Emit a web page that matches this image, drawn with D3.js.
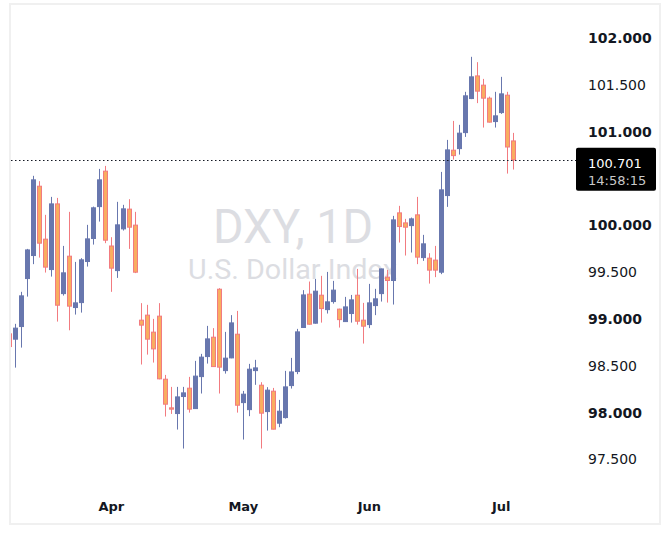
<!DOCTYPE html>
<html>
<head>
<meta charset="utf-8">
<script src="https://cdn.jsdelivr.net/npm/d3@7"></script>
<style>
  body { margin: 0; background: #fff; }
  svg { display: block; }
  .price-axis text { font-family: "DejaVu Sans", sans-serif; font-size: 14px; fill: #131722; }
  .time-axis text { font-family: "DejaVu Sans", sans-serif; font-size: 13px; font-weight: bold; fill: #131722; }
</style>
</head>
<body>
<svg class="CandleChart" width="670" height="544"></svg>
<script>
const symbolTitle = "DXY, 1D";
const symbolName = "U.S. Dollar Index";
const firstDay = "2026-03-09";

const openValues = [
    98.841, 98.784, 98.919, 99.432, 99.678, 100.419, 99.853, 99.528, 100.230, 99.271,
    99.671, 99.122, 99.175, 99.614, 99.860, 100.201, 100.580, 99.780, 99.517, 99.963,
    100.174, 100.003, 98.987, 99.041, 98.859, 99.030, 98.356, 98.050, 97.989, 98.171,
    98.260, 98.042, 98.384, 98.598, 98.805, 99.318, 98.448, 98.584, 98.837, 98.106,
    98.031, 98.448, 98.292, 98.010, 98.228, 97.886, 97.946, 98.288, 98.438, 98.909,
    99.265, 98.955, 99.254, 99.100, 99.186, 99.105, 98.972, 99.058, 99.254, 98.987,
    98.940, 99.143, 99.271, 99.447, 99.411, 100.134, 100.027, 99.998, 100.113, 99.656,
    99.650, 99.629, 99.500, 100.319, 100.804, 100.821, 100.992, 101.356, 101.598, 101.499,
    101.360, 101.110, 101.206, 101.392, 100.903
];
const highValues = [
    98.873, 98.948, 99.290, 99.749, 100.530, 100.473, 100.113, 100.305, 100.294, 99.781,
    100.145, 99.610, 99.650, 100.006, 100.201, 100.604, 100.636, 99.874, 100.252, 100.220,
    100.280, 100.145, 99.169, 99.151, 99.001, 99.169, 98.402, 98.274, 98.274, 98.274,
    98.381, 98.552, 98.627, 98.926, 98.902, 99.329, 98.862, 99.041, 99.086, 98.231,
    98.520, 98.563, 98.324, 98.271, 98.263, 98.135, 98.445, 98.584, 98.894, 99.308,
    99.400, 99.428, 99.461, 99.503, 99.407, 99.110, 99.236, 99.257, 99.535, 99.172,
    99.375, 99.322, 99.538, 99.524, 100.102, 100.209, 100.070, 100.084, 100.305, 99.899,
    99.703, 99.781, 100.572, 100.914, 101.117, 101.075, 101.428, 101.802, 101.745, 101.566,
    101.377, 101.428, 101.588, 101.428, 100.989
];
const lowValues = [
    98.680, 98.480, 98.694, 99.239, 99.586, 99.656, 99.496, 99.453, 98.972, 99.250,
    98.879, 99.047, 99.068, 99.560, 99.795, 100.041, 99.810, 99.290, 99.439, 99.945,
    99.749, 99.490, 98.513, 98.619, 98.534, 98.355, 97.957, 97.985, 97.818, 97.615,
    97.999, 98.040, 98.203, 98.523, 98.490, 98.203, 98.416, 98.580, 97.999, 97.711,
    97.961, 98.296, 97.615, 97.807, 97.820, 97.843, 97.935, 98.256, 98.410, 98.905,
    98.940, 98.950, 98.961, 99.058, 99.164, 98.908, 98.970, 98.961, 98.940, 98.737,
    98.902, 99.041, 99.186, 99.175, 99.154, 99.817, 99.678, 99.710, 99.586, 99.621,
    99.378, 99.447, 99.479, 100.198, 100.704, 100.757, 100.946, 101.350, 101.307, 101.046,
    101.100, 101.046, 101.192, 100.554, 100.597
];
const closeValues = [
    98.705, 98.902, 99.247, 99.738, 100.487, 99.810, 99.554, 100.230, 99.147, 99.493,
    99.137, 99.172, 99.632, 99.856, 100.188, 100.487, 99.842, 99.543, 100.006, 100.177,
    99.981, 99.500, 98.934, 98.784, 98.680, 98.360, 98.089, 98.036, 98.167, 98.210,
    98.036, 98.389, 98.592, 98.787, 98.491, 98.485, 98.581, 98.958, 98.078, 98.196,
    98.463, 98.477, 97.993, 98.239, 97.822, 98.014, 98.274, 98.434, 98.862, 99.257,
    98.944, 99.297, 99.111, 99.183, 99.308, 98.993, 99.129, 99.204, 98.976, 98.923,
    99.172, 99.215, 99.535, 99.411, 100.059, 99.988, 99.981, 100.070, 99.661, 99.803,
    99.522, 99.522, 100.380, 100.807, 100.746, 100.986, 101.385, 101.588, 101.435, 101.360,
    101.104, 101.171, 101.406, 100.838, 100.701
];

// 100.500 sits under the last-price label, so it is not listed
const priceTicks = [97.5, 98, 98.5, 99, 99.5, 100, 101, 101.5, 102];
const monthTicks = ["2026-04-01", "2026-05-01", "2026-06-01", "2026-07-01"];
const lastPrice = 100.701;
const countdown = "14:58:15";

function buildCandles()
{
    const parse = d3.timeParse("%Y-%m-%d");
    // trading days only (Mon-Fri)
    let days = d3.timeDay.range(parse(firstDay), parse("2026-08-01"))
        .filter(d => d.getDay() != 0 && d.getDay() != 6)
        .slice(0, openValues.length);
    let rows = [];
    for (var i = 0; i < days.length; i++) {
        rows.push({
            "date": days[i],
            "open": openValues[i],
            "high": highValues[i],
            "low": lowValues[i],
            "close": closeValues[i]
        });
    }
    return rows;
}

function renderCandleChart()
{
    const data = buildCandles();
    const parse = d3.timeParse("%Y-%m-%d");
    const svg = d3.select(".CandleChart");

    const plot = { left: 10, right: 578, top: 4, bottom: 490 };

    const xScale = d3.scaleBand()
        .domain(data.map(d => +d.date))
        .range([6.3, 516.3])
        .paddingInner(0.2)
        .paddingOuter(0.1);

    const yScale = d3.scaleLinear()
        .domain([97.5, 102])
        .range([459.3, 38.3]);

    svg.append('rect')
        .attr('x', 10)
        .attr('y', 4)
        .attr('width', 650)
        .attr('height', 520)
        .attr('fill', '#fff')
        .attr('stroke', '#f0f0f0')
        .attr('stroke-width', 2);

    svg.append('defs').append('clipPath')
        .attr('id', 'plotClip')
        .append('rect')
        .attr('x', plot.left + 1)
        .attr('y', plot.top + 1)
        .attr('width', plot.right - plot.left)
        .attr('height', plot.bottom - plot.top);

    // watermark
    svg.append('text')
        .attr('x', 293)
        .attr('y', 243)
        .attr('text-anchor', 'middle')
        .attr('font-family', 'Roboto, sans-serif')
        .attr('font-size', 48)
        .attr('textLength', 160)
        .attr('lengthAdjust', 'spacingAndGlyphs')
        .attr('fill', '#dcdde2')
        .text(symbolTitle);

    svg.append('text')
        .attr('x', 292.5)
        .attr('y', 279)
        .attr('text-anchor', 'middle')
        .attr('font-family', 'Roboto, sans-serif')
        .attr('font-size', 27)
        .attr('textLength', 209)
        .attr('lengthAdjust', 'spacingAndGlyphs')
        .attr('fill', '#dcdde2')
        .text(symbolName);

    const holder = svg.append('g')
        .attr('class', 'holder')
        .attr('clip-path', 'url(#plotClip)');

    const candles = holder.selectAll('.candle')
        .data(data)
        .enter()
        .append('g')
        .attr('class', 'candle');

    const isUp = d => d.close >= d.open;

    candles.append('line')
        .attr('x1', d => Math.round(xScale(+d.date) + xScale.bandwidth() / 2) + 0.5)
        .attr('x2', d => Math.round(xScale(+d.date) + xScale.bandwidth() / 2) + 0.5)
        .attr('y1', d => yScale(d.high))
        .attr('y2', d => yScale(d.low))
        .attr('stroke', d => isUp(d) ? '#6877ae' : '#f27b80')
        .attr('stroke-width', 1);

    candles.append('rect')
        .attr('x', d => Math.round(xScale(+d.date) + xScale.bandwidth() / 2) - 1.5)
        .attr('y', d => yScale(Math.max(d.open, d.close)))
        .attr('width', 4)
        .attr('height', d => Math.max(1, yScale(Math.min(d.open, d.close)) - yScale(Math.max(d.open, d.close))))
        .attr('fill', d => isUp(d) ? '#6877ae' : '#f9ad60')
        .attr('stroke', d => isUp(d) ? '#6877ae' : '#f27b80')
        .attr('stroke-width', 1);

    // last price line
    svg.append('line')
        .attr('x1', plot.left + 1)
        .attr('x2', 576)
        .attr('y1', Math.round(yScale(lastPrice)) + 0.5)
        .attr('y2', Math.round(yScale(lastPrice)) + 0.5)
        .attr('stroke', '#131722')
        .attr('stroke-width', 1)
        .attr('stroke-dasharray', '1.5,2.5');

    svg.append('g')
        .attr('class', 'price-axis')
        .attr('transform', `translate(580, 0)`)
        .call(
            d3.axisRight(yScale)
                .tickValues(priceTicks)
                .tickSize(0)
                .tickPadding(8)
                .tickFormat(d3.format('.3f'))
        )
        .call(g => g.select('.domain').remove())
        .call(g => g.selectAll('.tick text')
            .attr('font-weight', d => d % 1 == 0 ? 'bold' : 'normal'));

    svg.append('g')
        .attr('class', 'time-axis')
        .attr('transform', `translate(0, 494)`)
        .call(
            d3.axisBottom(xScale)
                .tickValues(monthTicks.map(m => +parse(m)))
                .tickSize(0)
                .tickPadding(8)
                .tickFormat(d => d3.timeFormat('%b')(new Date(d)))
        )
        .call(g => g.select('.domain').remove());

    // price label box
    const ly = yScale(lastPrice);
    svg.append('rect')
        .attr('x', 576)
        .attr('y', ly - 12)
        .attr('width', 80)
        .attr('height', 43)
        .attr('rx', 2)
        .attr('fill', '#000');

    svg.append('text')
        .attr('x', 588)
        .attr('y', ly + 8)
        .attr('font-family', 'DejaVu Sans, sans-serif')
        .attr('font-size', 13)
        .attr('fill', '#fff')
        .text(d3.format('.3f')(lastPrice));

    svg.append('text')
        .attr('x', 588)
        .attr('y', ly + 25)
        .attr('font-family', 'DejaVu Sans, sans-serif')
        .attr('font-size', 13)
        .attr('fill', '#c9c9c9')
        .text(countdown);
}

renderCandleChart();
</script>
</body>
</html>
